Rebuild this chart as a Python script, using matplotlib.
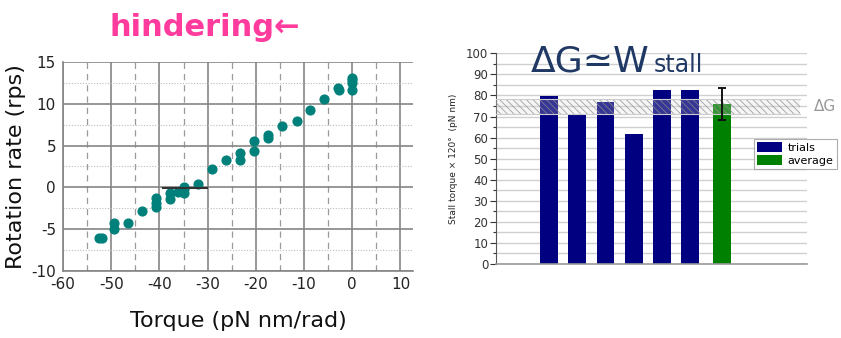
import matplotlib
matplotlib.use("Agg")
import matplotlib.pyplot as plt
from matplotlib.ticker import MultipleLocator

plt.rcParams['font.family'] = ['DejaVu Sans']
plt.rcParams['axes.unicode_minus'] = False
plt.rcParams['hatch.linewidth'] = 0.6

# ---- data: left panel ----
torque = [-52.5, -52.0, -49.5, -49.5, -46.5, -43.6, -40.8, -40.8, -40.8, -37.8, -37.8,
          -36.2, -35.0, -35.0, -34.8, -31.9, -29.1, -26.2, -23.2, -23.2, -20.3, -20.3,
          -17.4, -17.4, -14.5, -11.5, -8.7, -5.8, -2.9, -2.8, 0.0, 0.0, 0.0, 0.0]
rate = [-6.0, -6.1, -4.2, -5.0, -4.2, -2.8, -1.3, -1.9, -2.4, -0.7, -1.4,
        -0.5, 0.1, -0.7, -0.2, 0.35, 2.2, 3.3, 4.1, 3.3, 5.6, 4.4,
        6.3, 5.9, 7.4, 8.0, 9.2, 10.6, 11.9, 11.6, 13.1, 12.5, 12.8, 11.6]
stall_range = [-39.2, -30.2]
stall_rate = -0.1

# ---- data: right panel ----
trial_values = [79.6, 71.0, 76.7, 61.7, 82.6, 82.6]
average_value = 75.8
average_err = 7.5
dG_band = [71.0, 78.5]

fig = plt.figure(figsize=(8.41, 3.38), dpi=100)

# ================= left panel =================
ax = fig.add_axes([63/841, 1-271/338, 350/841, 209/338])
ax.set_xlim(-60, 12.6)
ax.set_ylim(-10, 15)
ax.xaxis.set_major_locator(MultipleLocator(10))
ax.xaxis.set_minor_locator(MultipleLocator(5))
ax.yaxis.set_major_locator(MultipleLocator(5))
ax.yaxis.set_minor_locator(MultipleLocator(2.5))
ax.grid(which='major', color='#858585', lw=1.2, ls='-')
ax.grid(which='minor', axis='x', color='#9a9a9a', lw=0.9, ls=(0, (5, 4)))
ax.grid(which='minor', axis='y', color='#bbbbbb', lw=0.8, ls=(0, (1, 1.5)))
ax.set_axisbelow(True)
for s in ['top', 'right']:
    ax.spines[s].set_visible(False)
for s in ['left', 'bottom']:
    ax.spines[s].set_color('#858585')
    ax.spines[s].set_linewidth(1.2)
ax.tick_params(which='both', length=0, labelsize=11, colors='#222222', pad=4)
ax.tick_params(axis='y', pad=5)
ax.plot(torque, rate, 'o', color='#00807a', ms=6.3, mec='#00807a', zorder=3)
ax.plot(stall_range, [stall_rate, stall_rate], color='#333333', lw=1.5, zorder=4)
ax.set_xlabel('Torque (pN nm/rad)', fontsize=16, labelpad=14, color='#111111')
ax.set_ylabel('Rotation rate (rps)', fontsize=16, labelpad=4, color='#111111')
fig.text(205/841, 1-36/338, 'hindering\u2190', fontsize=22, fontweight='bold',
         color='#ff3b9d', ha='center', va='baseline')

# ================= right panel =================
bx = fig.add_axes([496/841, 1-264/338, 311/841, 210.7/338])
pos_trials = [1, 2, 3, 4, 5, 6]
pos_avg = 7.13
bx.set_xlim(-0.87, 10.13)
bx.set_ylim(0, 100)
bx.yaxis.set_major_locator(MultipleLocator(10))
bx.yaxis.set_minor_locator(MultipleLocator(5))
bx.grid(which='both', axis='y', color='#d0d0d0', lw=1.0)
bx.set_axisbelow(True)
for s in ['top', 'right']:
    bx.spines[s].set_visible(False)
bx.spines['left'].set_color('#555555')
bx.spines['bottom'].set_color('#999999')
bx.spines['bottom'].set_linewidth(1.2)
bx.set_xticks([])
bx.tick_params(axis='y', which='major', length=4, width=0.8, labelsize=8.5, pad=1.5, colors='#333333')
bx.tick_params(axis='y', which='minor', length=2.5, width=0.8, colors='#333333')

b1 = bx.bar(pos_trials, trial_values, width=0.625, color='#000080', zorder=2, label='trials')
b2 = bx.bar([pos_avg], [average_value], width=0.625, color='#008000', zorder=2, label='average')
bx.errorbar([pos_avg], [average_value], yerr=[average_err], fmt='none', ecolor='#111111',
            elinewidth=1.4, capsize=3, capthick=1.4, zorder=5)
bx.fill_between([-0.87, 9.88], dG_band[0], dG_band[1], facecolor=(0.85, 0.85, 0.85, 0.25),
                edgecolor=(0.55, 0.55, 0.55, 0.8), hatch='\\\\\\\\\\', lw=0, zorder=4)
bx.plot([-0.87, 9.88], [dG_band[0], dG_band[0]], color='#cccccc', lw=0.8, zorder=4)
bx.plot([-0.87, 9.88], [dG_band[1], dG_band[1]], color='#cccccc', lw=0.8, zorder=4)
bx.text(10.75, sum(dG_band)/2, '\u0394G', fontsize=11, color='#999999', ha='center',
        va='center', clip_on=False)
bx.set_ylabel('Stall torque \u00d7 120\u00b0  (pN nm)', fontsize=6.5, labelpad=6, color='#222222')
leg = bx.legend(handles=[b1, b2], loc='upper left', bbox_to_anchor=(0.83, 0.595),
                fontsize=8, frameon=True, fancybox=False, edgecolor='#999999',
                handlelength=2.2, handleheight=1.0, borderpad=0.3, labelspacing=0.2,
                handletextpad=0.5, borderaxespad=0)
leg.get_frame().set_linewidth(0.8)

fig.text(531/841, 1-72/338, '\u0394G\u2243W', fontsize=26, color='#1f3864',
         ha='left', va='baseline')
fig.text(654/841, 1-72/338, 'stall', fontsize=17, color='#1f3864',
         ha='left', va='baseline')

fig.savefig('out.png', dpi=100)
